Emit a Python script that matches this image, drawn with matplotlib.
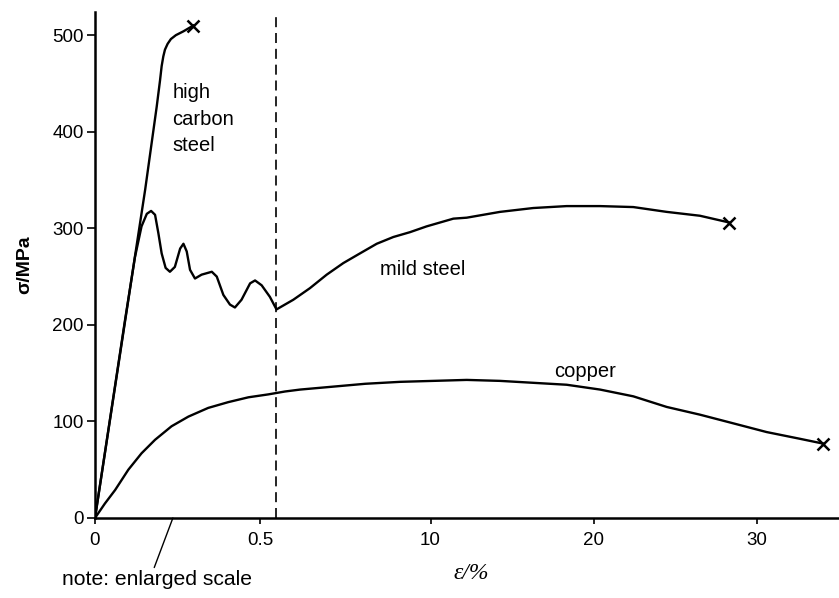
import numpy as np
import matplotlib
matplotlib.use("Agg")
import matplotlib.pyplot as plt

plt.rcParams['font.family'] = ['Liberation Sans', 'DejaVu Sans']

# strain (%) and stress (MPa)
hc_strain = [0, 0.152, 0.187, 0.197, 0.202, 0.207, 0.212, 0.22, 0.23, 0.245,
             0.268, 0.298]
hc_stress = [0, 340, 426, 453, 468, 478, 485, 491, 496, 500, 504, 510]

ms_strain = [0, 0.091, 0.121, 0.141, 0.157, 0.170, 0.182, 0.192, 0.202, 0.214,
             0.227, 0.242, 0.258, 0.268, 0.278, 0.288, 0.303, 0.323, 0.354,
             0.369, 0.389, 0.409, 0.424, 0.444, 0.470, 0.485, 0.505, 0.530,
             0.55, 1.58, 2.6, 3.63, 4.65, 5.67, 6.7, 7.72, 8.74, 9.76, 11.4,
             12.22, 14.26, 16.3, 18.35, 20.4, 22.44, 24.49, 26.53, 28.33]
ms_stress = [0, 205, 270, 302, 315, 318, 314, 295, 274, 259,
             255, 260, 279, 284, 276, 257, 248, 252, 255,
             250, 231, 221, 218, 226, 243, 246, 241, 229,
             216, 226, 238, 252, 264, 274, 284, 291, 296, 302, 310,
             311, 317, 321, 323, 323, 322, 317, 313, 306]

cu_strain = [0, 0.030, 0.061, 0.101, 0.141, 0.182, 0.232, 0.283, 0.343, 0.404,
             0.465, 0.525, 1.07, 2.0, 4.0, 6.0, 8.13, 10.17, 12.22, 14.26,
             16.3, 18.35, 20.4, 22.44, 24.49, 26.53, 28.58, 30.62, 32.67, 34.1]
cu_stress = [0, 15, 29, 50, 67, 81, 95, 105, 114, 120,
             125, 128, 131, 133, 136, 139, 141, 142, 143, 142,
             140, 138, 133, 126, 115, 107, 98, 89, 82, 77]

xticks = [0, 0.5, 10, 20, 30]
xtick_labels = ['0', '0.5', '10', '20', '30']
yticks = [0, 100, 200, 300, 400, 500]

BREAK = 0.55  # end of the enlarged part of the strain axis
K_LEFT = 330.0
K_RIGHT = 16.3


def fwd(x):
    x = np.asarray(x, dtype=float)
    return np.where(x <= BREAK, x * K_LEFT, BREAK * K_LEFT + (x - BREAK) * K_RIGHT)


def inv(u):
    u = np.asarray(u, dtype=float)
    return np.where(u <= BREAK * K_LEFT, u / K_LEFT, BREAK + (u - BREAK * K_LEFT) / K_RIGHT)


fig = plt.figure(figsize=(8.39, 5.98), dpi=100)
ax = fig.add_axes([95 / 839, 80 / 598, 744 / 839, 506 / 598])
ax.set_xscale('function', functions=(fwd, inv))
ax.set_xlim(0, 35.06)
ax.set_ylim(0, 524)

lw = 1.7
ax.plot(hc_strain, hc_stress, color='black', lw=lw, solid_joinstyle='round')
ax.plot(ms_strain, ms_stress, color='black', lw=lw, solid_joinstyle='round')
ax.plot(cu_strain, cu_stress, color='black', lw=lw, solid_joinstyle='round')

# fracture points
ax.plot(hc_strain[-1], hc_stress[-1], marker='x', color='black', ms=9, mew=1.8)
ax.plot(ms_strain[-1], ms_stress[-1], marker='x', color='black', ms=9, mew=1.8)
ax.plot(cu_strain[-1], cu_stress[-1], marker='x', color='black', ms=8, mew=1.8)

# scale change
ax.axvline(BREAK, color='black', lw=1.2, ls=(0, (6, 3.5)))

for s in ['top', 'right']:
    ax.spines[s].set_visible(False)
for s in ['left', 'bottom']:
    ax.spines[s].set_linewidth(1.8)

ax.set_xticks(xticks)
ax.set_xticklabels(xtick_labels)
ax.set_yticks(yticks)
ax.xaxis.set_minor_locator(matplotlib.ticker.NullLocator())
ax.tick_params(axis='x', direction='out', length=4, width=1.2, labelsize=13.5, pad=6)
ax.tick_params(axis='y', direction='out', length=6, width=1.2, labelsize=13.5, pad=2)

ax.set_ylabel('σ/MPa', fontsize=14, fontweight='bold', labelpad=14)
ax.set_xlabel('ε/%', fontsize=17, family=['Liberation Serif', 'DejaVu Serif'],
              style='italic')
ax.xaxis.set_label_coords((471 - 95) / 744, -(563 - 518) / 506)

ax.text(0.235, 450, 'high\ncarbon\nsteel', fontsize=14.5, va='top', ha='left',
        linespacing=1.5)
ax.text(6.9, 257, 'mild steel', fontsize=14.5, va='center', ha='left')
ax.text(17.6, 152, 'copper', fontsize=14.5, va='center', ha='left')

ax.annotate('note: enlarged scale', xy=(0.236, 0), xytext=(-0.1, -64),
            textcoords=('data', 'data'), fontsize=15.2, ha='left', va='center',
            annotation_clip=False,
            arrowprops=dict(arrowstyle='-', color='black', lw=1.0,
                            shrinkA=0, shrinkB=0,
                            relpos=(0.48, 1.0)))

fig.savefig('out.png', dpi=100)
